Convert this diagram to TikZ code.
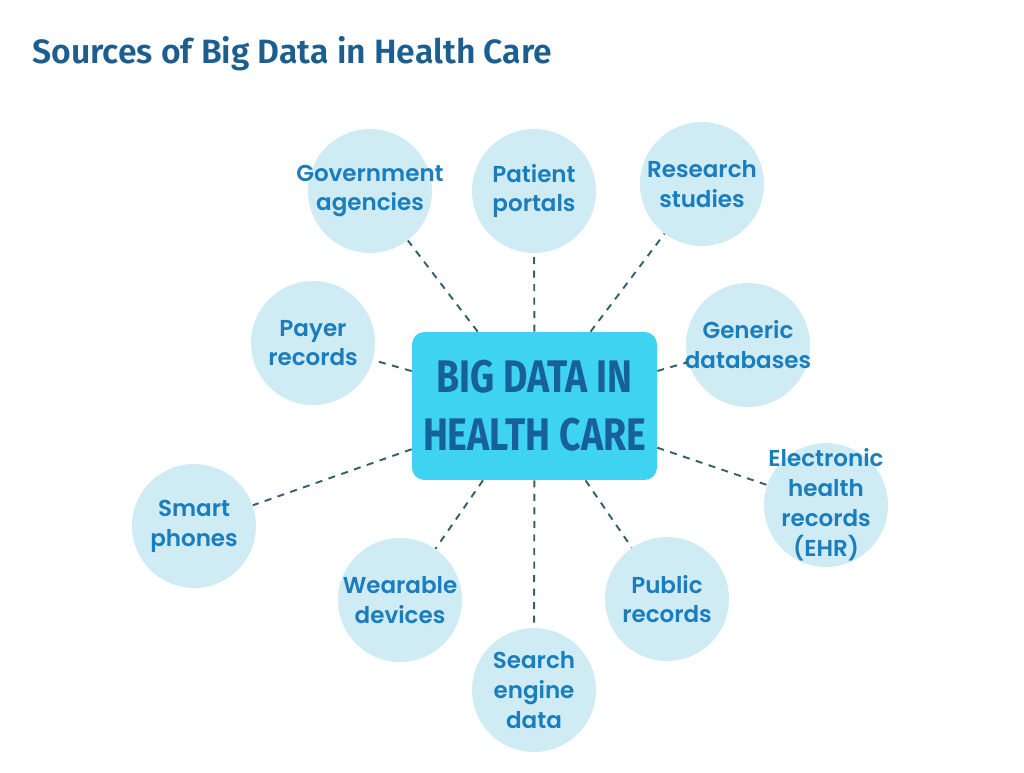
\documentclass[tikz,border=0pt]{standalone}
\usepackage{fontspec}
\usepackage{xcolor}
\usepackage{tikz}
\usetikzlibrary{positioning}
\setmainfont{Fira Sans}
\newfontfamily\titlefont{Fira Sans}[UprightFont={* SemiBold}]
\newfontfamily\circfont{Poppins}[UprightFont={* SemiBold}]
\newfontfamily\hubfont{Fira Sans}[UprightFont={* Bold},FakeStretch=0.82]
\definecolor{titleblue}{HTML}{1B5E8F}
\definecolor{srcblue}{HTML}{1A7DBD}
\definecolor{hubblue}{HTML}{17609C}
\definecolor{srcfill}{HTML}{CFEBF3}
\definecolor{hubfill}{HTML}{3DD3F1}
\definecolor{linkcol}{HTML}{34606E}
\tikzset{
  src/.style={circle, fill=srcfill, minimum size=2.48cm, inner sep=-20pt, align=center,
    text=srcblue, font=\circfont\fontsize{13.1}{17}\selectfont},
  hub/.style={rectangle, rounded corners=7pt, fill=hubfill, minimum width=4.9cm,
    minimum height=2.96cm, align=center, text=hubblue,
    font=\hubfont\fontsize{26}{33}\selectfont},
  link/.style={draw=linkcol, line width=1.1pt, dash pattern=on 4pt off 3.7pt}
}
\begin{document}
\begin{tikzpicture}[x=0.02cm,y=-0.02cm]
    \useasboundingbox (0,0) rectangle (1024,772);
    % Title
    \node[anchor=base west, inner sep=0pt, text=titleblue,
      font=\titlefont\fontsize{19.2}{23}\selectfont] (title) at (32,63)
      {Sources of Big Data in Health Care};

    % Centre
    \node[hub] (hub) at (534.5,406) {BIG DATA IN\\HEALTH CARE};

    % Sources
    \node[src] (gov) at (370,191) {Government\\agencies};
    \node[src] (portal) at (534,191) {Patient\\portals};
    \node[src] (research) at (702,184) {Research\\studies};
    \node[src] (generic) at (748,345) {Generic\\databases};
    \node[src] (ehr) at (826,505) {Electronic\\health\\records\\(EHR)};
    \node[src] (public) at (667,599) {Public\\records};
    \node[src] (search) at (534,690) {Search\\engine\\data};
    \node[src] (wear) at (400,600) {Wearable\\devices};
    \node[src] (phones) at (194,526) {Smart\\phones};
    \node[src] (payer) at (313,343) {Payer\\records};

    % Links
    \foreach \s in {gov,portal,research,generic,ehr,public,search,wear,phones,payer}
      \draw[link] (hub) -- (\s);
\end{tikzpicture}
\end{document}
